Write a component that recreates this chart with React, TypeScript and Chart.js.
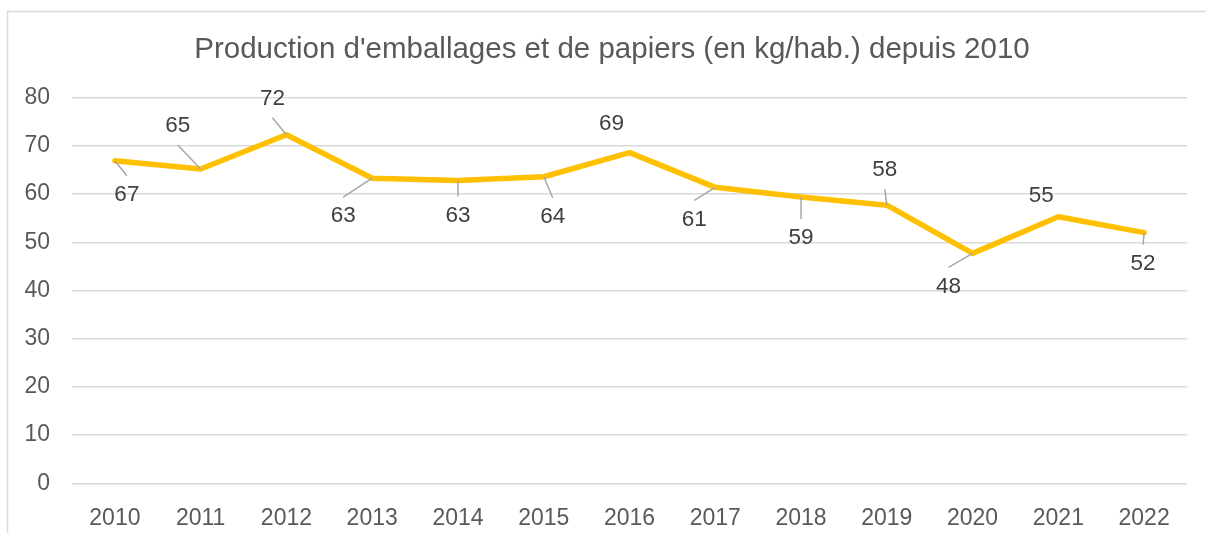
import React, { useEffect, useRef } from "react";
import { Chart, registerables } from "chart.js";

Chart.register(...registerables);

const TITLE = "Production d'emballages et de papiers (en kg/hab.) depuis 2010";
const years = ["2010", "2011", "2012", "2013", "2014", "2015", "2016", "2017", "2018", "2019", "2020", "2021", "2022"];
const production = [66.9, 65.2, 72.3, 63.3, 62.8, 63.6, 68.6, 61.4, 59.4, 57.7, 47.7, 55.3, 52.0];
const yTicks = [0, 10, 20, 30, 40, 50, 60, 70, 80];

// label placement (pixel offsets of the label centre from its point) and leader-line flags
const labelDx = [12, -23, -14, -29, 0, 9, -18, -21, 0, -2, -24, -17, -1];
const labelDy = [34, -43, -36, 38, 35, 40, -29, 32, 41, -35, 33, -21, 31];
const leaders = [true, true, true, true, true, true, false, true, true, true, true, false, true];

const FONT = "'Liberation Sans', Arial, sans-serif";

const decorPlugin = {
  id: "decor",
  beforeDraw(chart: any) {
    const ctx = chart.ctx;
    ctx.save();
    ctx.strokeStyle = "#d9d9d9";
    ctx.lineWidth = 1.5;
    ctx.beginPath();
    ctx.moveTo(7.5, chart.height + 5);
    ctx.lineTo(7.5, 11.5);
    ctx.lineTo(chart.width + 5, 11.5);
    ctx.stroke();
    ctx.fillStyle = "#595959";
    ctx.font = `29.5px ${FONT}`;
    ctx.textAlign = "center";
    ctx.textBaseline = "alphabetic";
    ctx.fillText(TITLE, 612, 58);
    ctx.restore();
  },
  afterDatasetsDraw(chart: any) {
    const ctx = chart.ctx;
    const meta = chart.getDatasetMeta(0);
    ctx.save();
    ctx.font = `22.5px ${FONT}`;
    ctx.textAlign = "center";
    ctx.textBaseline = "middle";
    meta.data.forEach((pt: any, i: number) => {
      const lx = pt.x + labelDx[i];
      const ly = pt.y + labelDy[i];
      if (leaders[i]) {
        const ay = labelDy[i] > 0 ? ly - 19 : ly + 19;
        ctx.strokeStyle = "#a6a6a6";
        ctx.lineWidth = 1.5;
        ctx.beginPath();
        ctx.moveTo(pt.x, pt.y);
        ctx.lineTo(lx, ay);
        ctx.stroke();
      }
      ctx.fillStyle = "#404040";
      ctx.fillText(String(Math.round(production[i])), lx, ly);
    });
    ctx.restore();
  },
};

export default function App() {
  const ref = useRef<HTMLCanvasElement>(null);
  useEffect(() => {
    if (!ref.current) return;
    const chart = new Chart(ref.current, {
      type: "line",
      data: {
        labels: years,
        datasets: [
          {
            data: production,
            borderColor: "#FFC000",
            backgroundColor: "#FFC000",
            borderWidth: 5.5,
            pointRadius: 0,
            pointHoverRadius: 0,
            tension: 0,
            borderJoinStyle: "round",
            borderCapStyle: "round",
          },
        ],
      },
      options: {
        animation: false,
        responsive: true,
        maintainAspectRatio: false,
        layout: { padding: { left: 0, right: 19, top: 97.7, bottom: 0 } },
        plugins: { legend: { display: false }, title: { display: false }, tooltip: { enabled: false } },
        scales: {
          x: {
            offset: true,
            grid: { display: false },
            border: { display: false },
            ticks: { color: "#595959", font: { family: FONT, size: 23 }, padding: 14, maxRotation: 0 },
            afterFit: (s: any) => {
              s.height = 49.7;
            },
          },
          y: {
            min: 0,
            max: 80,
            afterBuildTicks: (s: any) => {
              s.ticks = yTicks.map((v) => ({ value: v }));
            },
            grid: { color: "#d9d9d9", lineWidth: 1.5, drawTicks: false },
            border: { display: false },
            ticks: { color: "#595959", font: { family: FONT, size: 23 }, padding: 22 },
            afterFit: (s: any) => {
              s.width = 72;
            },
          },
        },
      },
      plugins: [decorPlugin],
    });
    return () => chart.destroy();
  }, []);
  return (
    <div style={{ position: "fixed", left: 0, top: 0, width: 1206, height: 533, background: "#fff" }}>
      <canvas ref={ref} />
    </div>
  );
}
